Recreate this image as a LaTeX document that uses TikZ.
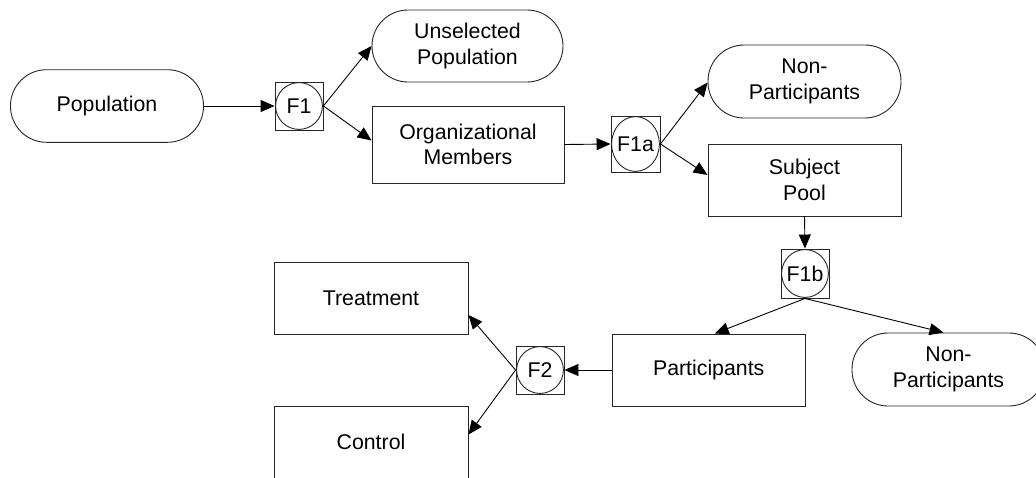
\documentclass[tikz,border=0pt]{standalone}
\usepackage{fontspec}
\setmainfont{Liberation Sans}
\usetikzlibrary{arrows.meta}
\tikzset{
  base/.style={draw=black!85, line width=0.9pt, align=center, inner sep=0pt,
    font=\fontsize{21.3}{25.5}\selectfont},
  term/.style={base, rectangle, rounded corners=36pt, minimum width=193pt, minimum height=72.6pt},
  proc/.style={base, rectangle, minimum width=193pt, minimum height=72pt},
  filt/.style 2 args={base, rectangle, minimum width=#1, minimum height=#2,
    path picture={\draw[line width=0.9pt, black!85] (path picture bounding box.center)
      ellipse [x radius=#1/2-0.6pt, y radius=#2/2-0.6pt];}},
  conn/.style={line width=0.9pt, draw=black, -{Triangle[length=14pt,width=12pt]}}
}
\begin{document}
\begin{tikzpicture}[x=1pt,y=-1pt]
\useasboundingbox (0,0) rectangle (1036,477);
\node[term] (pop) at (107,106) {Population};
\node[filt={48pt}{48pt}] (f1) at (299,106) {F1};
\node[term, minimum width=191pt, minimum height=72pt] (unsel) at (467.5,46) {Unselected\\Population};
\node[proc, minimum width=192pt, minimum height=77pt] (org) at (468,144.5) {Organizational\\Members};
\node[filt={49pt}{56pt}] (f1a) at (635.5,144) {F1a};
\node[term, minimum height=73pt] (np1) at (804.5,81.5) {Non-\\Participants};
\node[proc] (subj) at (804.5,180) {Subject\\Pool};
\node[filt={48pt}{49pt}] (f1b) at (805,273.5) {F1b};
\node[proc] (part) at (708.7,370) {Participants};
\node[term, minimum height=73pt] (np2) at (948.5,369.5) {Non-\\Participants};
\node[filt={48pt}{48pt}] (f2) at (540,370) {F2};
\node[proc, minimum width=194pt] (treat) at (371,298) {Treatment};
\node[proc, minimum width=194pt] (ctrl) at (371,442) {Control};

\draw[conn] (pop.east) -- (f1.west);
\draw[conn] (f1.east) -- (unsel.west);
\draw[conn] (f1.east) -- ([yshift=4pt]org.west);
\draw[conn] (org.east) -- (f1a.west);
\draw[conn] (f1a.east) -- ([yshift=-1pt]np1.west);
\draw[conn] (f1a.east) -- ([yshift=5pt]subj.west);
\draw[conn] (subj.south) -- (f1b.north);
\draw[conn] (f1b.south) -- ([xshift=6pt]part.north);
\draw[conn] (f1b.south) -- ([xshift=-5pt]np2.north);
\draw[conn] (part.west) -- (f2.east);
\draw[conn] (f2.west) -- ([yshift=-17pt]treat.east);
\draw[conn] (f2.west) -- ([yshift=-29pt]ctrl.north east);
\end{tikzpicture}
\end{document}
